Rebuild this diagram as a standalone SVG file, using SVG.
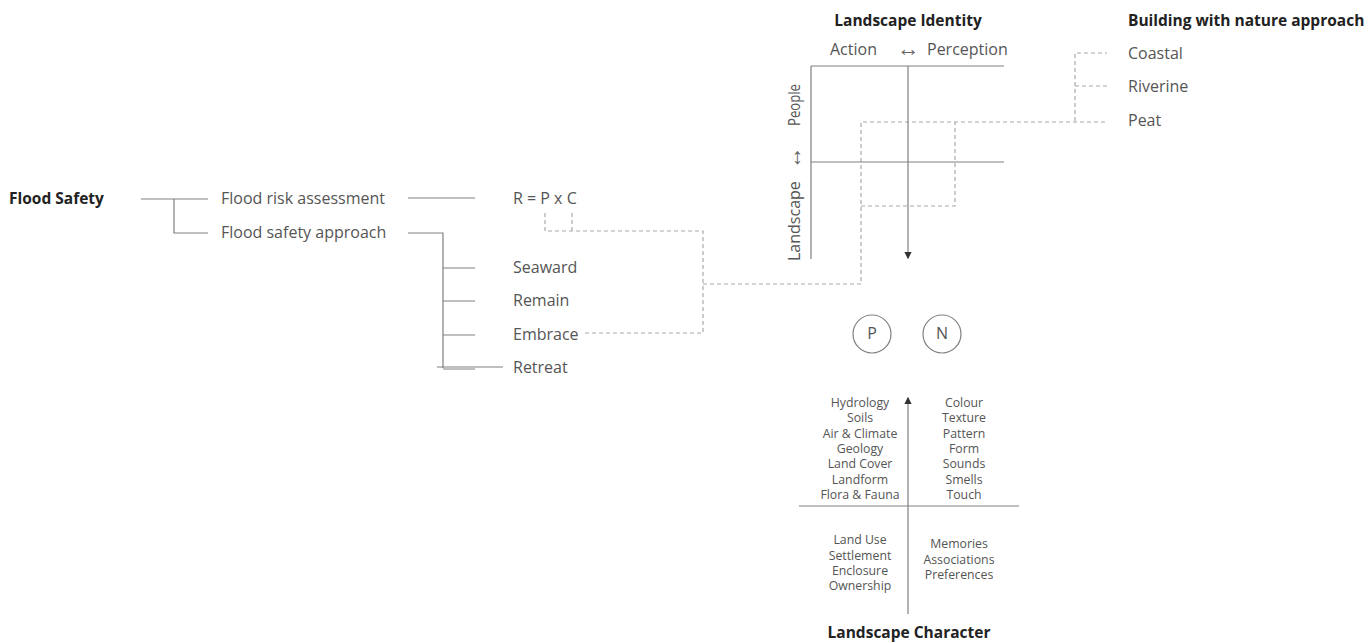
<svg xmlns="http://www.w3.org/2000/svg" width="1368" height="643" viewBox="0 0 1368 643">
  <style>
    .t { font-family: "Open Sans", "Liberation Sans", sans-serif; font-size: 16px; fill: #555; }
    .s { font-family: "Open Sans", "Liberation Sans", sans-serif; font-size: 12.3px; fill: #555; text-anchor: middle; }
    .b { font-family: "Open Sans", "Liberation Sans", sans-serif; font-size: 15.5px; font-weight: bold; fill: #222; }
    .arr { font-family: "Liberation Sans", sans-serif; font-size: 23px; fill: #666; text-anchor: middle; }
    .ln { stroke: #808080; stroke-width: 1.2; fill: none; }
    .dash { stroke: #aaa; stroke-width: 1.2; fill: none; stroke-dasharray: 4 3; }
  </style>
  <defs>
    <marker id="ah" viewBox="0 0 6 6" refX="5" refY="3" markerWidth="6" markerHeight="6" orient="auto">
      <path d="M0,0 L6,3 L0,6 Z" fill="#333"/>
    </marker>
  </defs>
  <rect width="1368" height="643" fill="#fff"/>

  <!-- connectors -->
  <g id="connectors">
    <!-- flood safety tree -->
    <path class="ln" d="M141,199 H208 M174,199 V233 H208"/>
    <path class="ln" d="M408,198 H475"/>
    <path class="ln" d="M408,233 H443 V368"/>
    <path class="ln" d="M443,268 H475 M443,301 H475 M443,335 H475"/>
    <path class="ln" d="M437,367 H503 M443,369 H475"/>
    <!-- dashed links -->
    <path class="dash" d="M545,213 V231 H703 V333 H583"/>
    <path class="dash" d="M572,213 V231"/>
    <path class="dash" d="M703,284 H861 V122 H1107"/>
    <path class="dash" d="M861,206 H955 V122"/>
    <path class="dash" d="M1075,121 V53 H1107 M1075,86 H1107"/>
    <!-- identity grid -->
    <path class="ln" d="M811,66 H1004 M811,66 V259 M811,162 H1004"/>
    <path class="ln" d="M908,66 V258" marker-end="url(#ah)"/>
    <!-- character axes -->
    <path class="ln" d="M908,614 V398" marker-end="url(#ah)"/>
    <path class="ln" d="M799,506 H1019"/>
  </g>

  <g id="flood-safety"><text class="b" x="9" y="204">Flood Safety</text></g>
  <g id="risk-assessment"><text class="t" x="221" y="204">Flood risk assessment</text></g>
  <g id="safety-approach"><text class="t" x="221" y="238">Flood safety approach</text></g>
  <g id="formula"><text class="t" x="513" y="204">R = P x C</text></g>
  <g id="seaward"><text class="t" x="513" y="273">Seaward</text></g>
  <g id="remain"><text class="t" x="513" y="306">Remain</text></g>
  <g id="embrace"><text class="t" x="513" y="340">Embrace</text></g>
  <g id="retreat"><text class="t" x="513" y="373">Retreat</text></g>

  <g id="landscape-identity">
    <text class="b" x="908" y="26" text-anchor="middle">Landscape Identity</text>
    <text class="t" x="830" y="55">Action</text>
    <text class="arr" x="908" y="56">↔</text>
    <text class="t" x="927" y="55">Perception</text>
    <text class="t" transform="translate(800,261) rotate(-90)">Landscape</text>
    <text class="arr" transform="translate(801,158) rotate(-90)">↔</text>
    <text class="t" transform="translate(800,126) rotate(-90)" textLength="42" lengthAdjust="spacingAndGlyphs">People</text>
  </g>

  <g id="bwn">
    <text class="b" x="1128" y="26">Building with nature approach</text>
  </g>
  <g id="coastal"><text class="t" x="1128" y="59">Coastal</text></g>
  <g id="riverine"><text class="t" x="1128" y="92">Riverine</text></g>
  <g id="peat"><text class="t" x="1128" y="126">Peat</text></g>

  <g id="node-p">
    <circle cx="872" cy="334" r="19" fill="none" stroke="#808080" stroke-width="1.2"/>
    <text class="t" x="872" y="339" text-anchor="middle" font-size="15">P</text>
  </g>
  <g id="node-n">
    <circle cx="942" cy="334" r="19" fill="none" stroke="#808080" stroke-width="1.2"/>
    <text class="t" x="942" y="339" text-anchor="middle" font-size="15">N</text>
  </g>

  <g id="landscape-character">
    <text class="s" x="860" y="407">Hydrology</text>
    <text class="s" x="860" y="422">Soils</text>
    <text class="s" x="860" y="438">Air &amp; Climate</text>
    <text class="s" x="860" y="453">Geology</text>
    <text class="s" x="860" y="468">Land Cover</text>
    <text class="s" x="860" y="484">Landform</text>
    <text class="s" x="860" y="499">Flora &amp; Fauna</text>
    <text class="s" x="964" y="407">Colour</text>
    <text class="s" x="964" y="422">Texture</text>
    <text class="s" x="964" y="438">Pattern</text>
    <text class="s" x="964" y="453">Form</text>
    <text class="s" x="964" y="468">Sounds</text>
    <text class="s" x="964" y="484">Smells</text>
    <text class="s" x="964" y="499">Touch</text>
    <text class="s" x="860" y="544">Land Use</text>
    <text class="s" x="860" y="560">Settlement</text>
    <text class="s" x="860" y="575">Enclosure</text>
    <text class="s" x="860" y="590">Ownership</text>
    <text class="s" x="959" y="548">Memories</text>
    <text class="s" x="959" y="564">Associations</text>
    <text class="s" x="959" y="579">Preferences</text>
    <text class="b" x="909" y="638" text-anchor="middle">Landscape Character</text>
  </g>
</svg>
